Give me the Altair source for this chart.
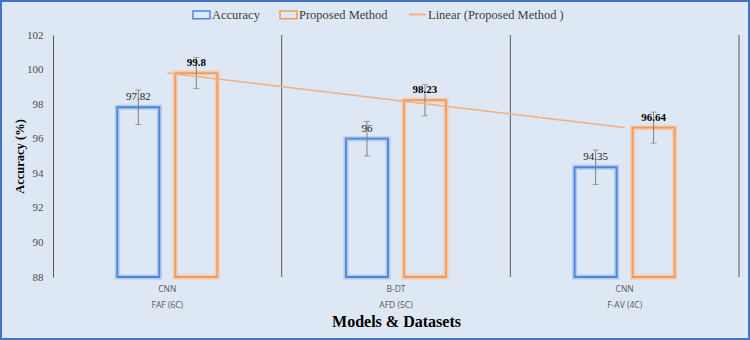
import altair as alt
import pandas as pd

categories = ["CNN|FAF (6C)", "B-DT|AFD (5C)", "CNN|F-AV (4C)"]
series_names = ["Accuracy", "Proposed Method"]
glow_names = ["Accuracy glow", "Proposed Method glow"]
trend_name = "Linear (Proposed Method )"
accuracy = [97.82, 96, 94.35]
proposed = [99.8, 98.23, 96.64]
accuracy_err = [1.0, 1.0, 1.0]
proposed_err = [0.9, 0.9, 0.9]
y_ticks = [88, 90, 92, 94, 96, 98, 100, 102]
y_base = 88

rows = []
for i, c in enumerate(categories):
    rows.append({"cat": c, "idx": i + 1, "series": "Accuracy", "value": accuracy[i], "err": accuracy_err[i]})
    rows.append({"cat": c, "idx": i + 1, "series": "Proposed Method", "value": proposed[i], "err": proposed_err[i]})
df = pd.DataFrame(rows)

BLUE = "#4f86dc"
BLUE_GLOW = "#a9c7f0"
ORANGE = "#ef9c63"
ORANGE_GLOW = "#f8caa6"
TREND = "#f4b183"
GRAY = "#595959"
SERIF = "Liberation Serif"
SANS = "Open Sans"

x_axis = alt.Axis(title="Models & Datasets", labelAngle=0, ticks=False, domain=False, grid=False,
                  labelExpr="split(datum.label, '|')", labelLineHeight=16,
                  labelFont=SANS, labelFontSize=8.5, labelColor=GRAY, labelPadding=7,
                  titleFont=SERIF, titleFontSize=16, titleFontWeight="bold",
                  titleColor="#000000", titlePadding=5)
x_scale = alt.Scale(paddingInner=0, paddingOuter=0)
y_axis = alt.Axis(title="Accuracy (%)", values=y_ticks, grid=False, ticks=False,
                  domain=True, domainColor=GRAY, domainWidth=1, labelOverlap=False,
                  labelFont=SERIF, labelFontSize=11, labelColor="#4d4d4d", labelPadding=10,
                  titleFont=SERIF, titleFontSize=12.5, titleFontWeight="bold",
                  titleColor="#000000", titlePadding=0)
y_scale = alt.Scale(domain=[88, 102], nice=False, zero=False)


def xe(**kw):
    return alt.X("cat:N", sort=categories, scale=x_scale, axis=x_axis, **kw)


def ye(field):
    return alt.Y(field, scale=y_scale, axis=y_axis)


xoff = alt.XOffset("series:N", sort=series_names,
                   scale=alt.Scale(domain=series_names, range=[64.3, 164.3],
                                   paddingInner=0.276, paddingOuter=0))

base = alt.Chart(df)

sep = base.transform_filter(alt.datum.series == "Accuracy").mark_rule(
    color=GRAY, strokeWidth=1).encode(x=xe(bandPosition=1))

glow = base.transform_calculate(glow_series="datum.series + ' glow'").mark_bar(
    filled=False, strokeWidth=5, opacity=0.9).encode(
    x=xe(), xOffset=xoff, y=ye("value:Q"), y2=alt.Y2(datum=y_base),
    stroke=alt.Stroke("glow_series:N",
                      scale=alt.Scale(domain=glow_names, range=[BLUE_GLOW, ORANGE_GLOW]),
                      legend=None))

bars = base.mark_bar(filled=False, strokeWidth=1.8).encode(
    x=xe(), xOffset=xoff, y=ye("value:Q"), y2=alt.Y2(datum=y_base),
    color=alt.Color("series:N",
                    scale=alt.Scale(domain=series_names, range=[BLUE, ORANGE]),
                    legend=alt.Legend(title=None, orient="none", direction="horizontal",
                                      legendX=139, legendY=-30, symbolSize=289, columnPadding=17,
                                      symbolType="M-1,-0.45H1V0.45H-1Z",
                                      labelFont=SERIF, labelFontSize=12.5, labelColor="#404040",
                                      labelOffset=1, symbolStrokeWidth=1.5)))

err_base = base.transform_calculate(lo="datum.value - datum.err", hi="datum.value + datum.err")
err_rule = err_base.mark_rule(color="#808080", strokeWidth=1).encode(
    x=xe(), xOffset=xoff, y=ye("lo:Q"), y2="hi:Q")
cap_lo = err_base.mark_tick(color="#808080", thickness=1, size=6, orient="horizontal").encode(
    x=xe(), xOffset=xoff, y=ye("lo:Q"))
cap_hi = err_base.mark_tick(color="#808080", thickness=1, size=6, orient="horizontal").encode(
    x=xe(), xOffset=xoff, y=ye("hi:Q"))

lab_acc = base.transform_filter(alt.datum.series == "Accuracy").mark_text(
    dy=-10, baseline="middle", font=SERIF, fontSize=11, color="#262626").encode(
    x=xe(), xOffset=xoff, y=ye("value:Q"), text=alt.Text("value:Q"))
lab_prop = base.transform_filter(alt.datum.series == "Proposed Method").mark_text(
    dy=-10, baseline="middle", font=SERIF, fontSize=11, fontWeight="bold", color="#000000").encode(
    x=xe(), xOffset=xoff, y=ye("value:Q"), text=alt.Text("value:Q"))

cat_list = "['" + "','".join(categories) + "']"
trend = base.transform_filter(alt.datum.series == "Proposed Method").transform_regression(
    "idx", "value", method="linear").transform_calculate(
    cat=cat_list + "[round(datum.idx) - 1]", name="'" + trend_name + "'").mark_line(
    color=TREND, strokeWidth=1.6).encode(
    x=xe(), y=ye("value:Q"),
    strokeDash=alt.StrokeDash("name:N", scale=alt.Scale(domain=[trend_name], range=[[1, 0]]),
                              legend=alt.Legend(title=None, orient="none", legendX=355, legendY=-30,
                                                symbolType="stroke", symbolSize=289,
                                                symbolStrokeColor=TREND, symbolStrokeWidth=2,
                                                labelFont=SERIF, labelFontSize=12.5,
                                                labelColor="#404040", labelOffset=1)))

border = alt.Chart(pd.DataFrame({"a": [0]})).mark_rect(
    fill="transparent", stroke="#4472c4", strokeWidth=2).encode(
    x=alt.value(-52), x2=alt.value(696), y=alt.value(-34), y2=alt.value(304))

chart = alt.layer(sep, glow, bars, err_rule, cap_lo, cap_hi, trend, lab_acc, lab_prop, border).properties(
    width=686, height=242,
    padding={"left": 53, "top": 35, "right": 11, "bottom": 63},
    autosize=alt.AutoSizeParams(type="none"),
    background="#dee8f4").configure_view(stroke=None)

chart.save("out.html", embed_options={"renderer": "svg", "actions": False})
